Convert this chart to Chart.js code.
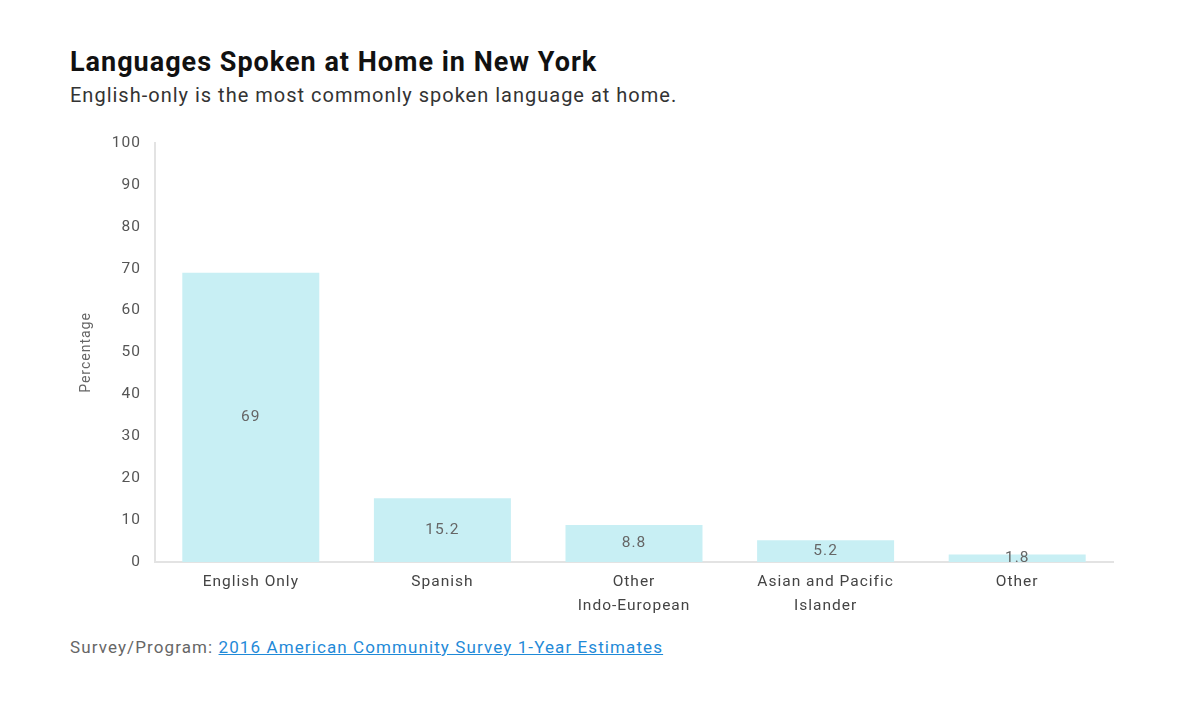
<!DOCTYPE html>
<html>
<head>
<meta charset="utf-8">
<script src="https://cdn.jsdelivr.net/npm/chart.js"></script>
<style>
  body { margin: 0; background: #fff; font-family: Roboto, "Noto Sans", sans-serif; }
  #wrap { position: relative; width: 1200px; height: 717px; }
  #title { position: absolute; left: 70px; top: 46px; font-size: 27px; font-weight: bold; color: #111; margin: 0; letter-spacing: 1px; }
  #subtitle { position: absolute; left: 70px; top: 83px; font-size: 20px; color: #333; margin: 0; letter-spacing: 1px; }
  #chartBox { position: absolute; left: 0; top: 120px; width: 1200px; height: 498px; }
  #footer { position: absolute; left: 70px; top: 637px; font-size: 17px; color: #666; letter-spacing: 1.1px; }
  #footer a { color: #1f8ad8; text-decoration: underline; }
</style>
</head>
<body>
<div id="wrap">
  <h1 id="title">Languages Spoken at Home in New York</h1>
  <p id="subtitle">English-only is the most commonly spoken language at home.</p>
  <div id="chartBox"><canvas id="langChart"></canvas></div>
  <div id="footer">Survey/Program: <a href="#">2016 American Community Survey 1-Year Estimates</a></div>
</div>
<script>
// chart data
const categories = ['English Only', 'Spanish', ['Other', 'Indo-European'], ['Asian and Pacific', 'Islander'], 'Other'];
const percentages = [69, 15.2, 8.8, 5.2, 1.8];
const yTicks = [0, 10, 20, 30, 40, 50, 60, 70, 80, 90, 100];

// the reference text is a bit wider than plain Roboto
const wideText = {
    id: 'wideText',
    beforeLayout(chart) { chart.ctx.letterSpacing = '1px'; },
    beforeDraw(chart) { chart.ctx.letterSpacing = '1px'; }
};

// draws the value in the middle of each bar
const barValueLabels = {
    id: 'barValueLabels',
    afterDatasetsDraw(chart) {
        const ctx = chart.ctx;
        const meta = chart.getDatasetMeta(0);
        ctx.save();
        ctx.font = '15.5px Roboto';
        ctx.fillStyle = '#666';
        ctx.textAlign = 'center';
        ctx.textBaseline = 'middle';
        meta.data.forEach((bar, i) => {
            const mid = (bar.y + bar.base) / 2;
            ctx.fillText(String(percentages[i]), bar.x, mid);
        });
        ctx.restore();
    }
};

const ctx = document.getElementById('langChart').getContext('2d');
new Chart(ctx, {
    type: 'bar',
    data: {
        labels: categories,
        datasets: [{
            label: 'Percentage',
            data: percentages,
            backgroundColor: '#c8eff4',
            borderWidth: 0,
            categoryPercentage: 0.715,
            barPercentage: 1
        }]
    },
    options: {
        responsive: true,
        maintainAspectRatio: false,
        animation: false,
        layout: { padding: { left: 78, right: 87, top: 23, bottom: 0 } },
        scales: {
            x: {
                grid: { display: false },
                border: { display: true, color: '#e3e3e3', width: 2 },
                ticks: { color: '#444', font: { family: 'Roboto', size: 15.5, lineHeight: 1.55 }, padding: 0, maxRotation: 0 }
            },
            y: {
                min: 0,
                max: 100,
                afterBuildTicks(scale) {
                    scale.ticks = yTicks.map(v => ({ value: v }));
                },
                afterFit(scale) { scale.width = 77; },
                grid: { display: false },
                border: { display: true, color: '#e3e3e3', width: 2 },
                ticks: { color: '#555', font: { family: 'Roboto', size: 15.5 }, padding: 6 },
                title: { display: true, text: 'Percentage', color: '#666', font: { family: 'Roboto', size: 14 }, padding: 0 }
            }
        },
        plugins: {
            legend: { display: false },
            tooltip: { enabled: false }
        }
    },
    plugins: [wideText, barValueLabels]
});
</script>
</body>
</html>
